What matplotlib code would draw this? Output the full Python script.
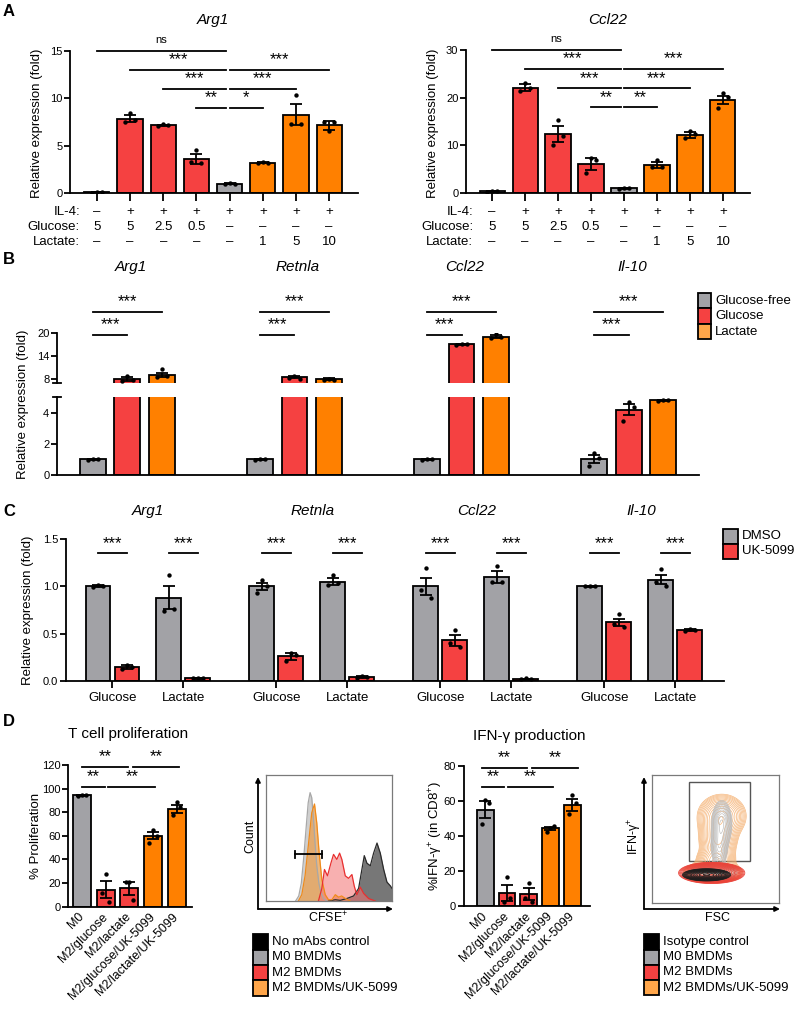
"""Figura wieloczesciowa: ekspresja genow M2 i proliferacja limfocytow T."""

import numpy as np
import matplotlib

matplotlib.use("Agg")
from matplotlib import pyplot as plt
from matplotlib.patches import Rectangle
from matplotlib.transforms import blended_transform_factory

plt.rcParams["font.family"] = ["Liberation Sans", "DejaVu Sans"]
plt.rcParams["mathtext.fontset"] = "custom"
plt.rcParams["mathtext.rm"] = "Liberation Sans"
plt.rcParams["mathtext.it"] = "Liberation Sans:italic"
plt.rcParams["axes.linewidth"] = 1.3
plt.rcParams["xtick.major.width"] = 1.3
plt.rcParams["ytick.major.width"] = 1.3
plt.rcParams["xtick.labelsize"] = 8
plt.rcParams["ytick.labelsize"] = 8

RED = "#F54141"
ORANGE = "#FF8000"
GRAY = "#A2A2A6"
LEG_ORANGE = "#FFA64A"
OFFSETS = [-0.2, 0.0, 0.2]

# =========================================================================
# Dane - panel A
# =========================================================================
a_il4 = ["–", "+", "+", "+", "+", "+", "+", "+"]
a_glucose = ["5", "5", "2.5", "0.5", "–", "–", "–", "–"]
a_lactate = ["–", "–", "–", "–", "–", "1", "5", "10"]
a_colors = [GRAY, RED, RED, RED, GRAY, ORANGE, ORANGE, ORANGE]

arg1_mean = [0.1, 7.86, 7.15, 3.6, 0.98, 3.2, 8.26, 7.15]
arg1_sem = [0.02, 0.4, 0.05, 0.5, 0.05, 0.07, 1.1, 0.45]
arg1_pts = [[0.05, 0.12, 0.08], [7.5, 8.45, 7.75], [7.1, 7.25, 7.15], [3.25, 4.55, 3.2],
            [0.95, 1.05, 0.98], [3.15, 3.3, 3.2], [7.3, 10.4, 7.3], [7.5, 6.5, 7.5]]
arg1_sig = [(0, 3.9, 15.0, "ns"), (1, 3.9, 13.0, "***"), (2, 3.9, 11.0, "***"), (3, 3.9, 9.0, "**"),
            (4.0, 7.0, 13.0, "***"), (4.0, 6.0, 11.0, "***"), (4.0, 5.0, 9.0, "*")]

ccl22_mean = [0.35, 22.1, 12.4, 6.1, 0.95, 5.8, 12.2, 19.5]
ccl22_sem = [0.1, 0.8, 1.6, 1.2, 0.1, 0.6, 0.6, 0.9]
ccl22_pts = [[0.3, 0.4, 0.35], [21.5, 23.0, 22.0], [10.0, 15.3, 12.0], [4.1, 7.4, 7.0],
             [0.9, 1.1, 0.95], [5.5, 6.9, 5.5], [11.6, 13.0, 12.3], [17.8, 20.9, 20.2]]
ccl22_sig = [(0, 3.9, 30.0, "ns"), (1, 3.9, 26.0, "***"), (2, 3.9, 22.0, "***"), (3, 3.9, 18.0, "**"),
             (4.0, 7.0, 26.0, "***"), (4.0, 6.0, 22.0, "***"), (4.0, 5.0, 18.0, "**")]

# =========================================================================
# Dane - panel B
# =========================================================================
b_genes = ["Arg1", "Retnla", "Ccl22", "Il-10"]
b_conditions = ["Glucose-free", "Glucose", "Lactate"]
b_free_mean = [1.0, 1.0, 1.0, 1.03]
b_free_sem = [0.04, 0.02, 0.03, 0.25]
b_free_pts = [[0.95, 1.05, 1.0], [0.98, 1.02, 1.0], [0.97, 1.03, 1.0], [0.6, 1.43, 1.1]]
b_glucose_mean = [8.0, 8.5, 17.0, 4.2]
b_glucose_sem = [0.4, 0.3, 0.1, 0.35]
b_glucose_pts = [[7.6, 8.8, 7.7], [8.3, 8.9, 8.1], [16.9, 17.1, 17.0], [3.5, 4.7, 4.4]]
b_lactate_mean = [9.0, 8.0, 19.0, 4.8]
b_lactate_sem = [0.6, 0.15, 0.3, 0.05]
b_lactate_pts = [[8.5, 10.6, 8.7], [7.8, 8.1, 7.7], [18.7, 19.6, 18.8], [4.75, 4.85, 4.8]]

# =========================================================================
# Dane - panel C
# =========================================================================
c_genes = ["Arg1", "Retnla", "Ccl22", "Il-10"]
c_substrates = ["Glucose", "Lactate"]
c_treatments = ["DMSO", "UK-5099"]
c_dmso_glc_mean = [1.0, 1.0, 1.0, 1.0]
c_dmso_glc_sem = [0.01, 0.04, 0.09, 0.005]
c_dmso_glc_pts = [[0.99, 1.01, 1.0], [0.93, 1.07, 1.0], [0.96, 1.19, 0.88], [1.0, 1.0, 1.0]]
c_uk_glc_mean = [0.15, 0.26, 0.43, 0.62]
c_uk_glc_sem = [0.02, 0.04, 0.06, 0.04]
c_uk_glc_pts = [[0.13, 0.17, 0.15], [0.21, 0.3, 0.27], [0.4, 0.54, 0.36], [0.6, 0.71, 0.57]]
c_dmso_lac_mean = [0.88, 1.05, 1.1, 1.07]
c_dmso_lac_sem = [0.12, 0.04, 0.06, 0.05]
c_dmso_lac_pts = [[0.74, 1.12, 0.76], [1.01, 1.12, 1.03], [1.05, 1.22, 1.05], [1.05, 1.18, 1.0]]
c_uk_lac_mean = [0.03, 0.04, 0.02, 0.54]
c_uk_lac_sem = [0.005, 0.01, 0.005, 0.01]
c_uk_lac_pts = [[0.03, 0.035, 0.03], [0.03, 0.05, 0.04], [0.02, 0.03, 0.02], [0.53, 0.55, 0.54]]

# =========================================================================
# Dane - panel D
# =========================================================================
d_groups = ["M0", "M2/glucose", "M2/lactate", "M2/glucose/UK-5099", "M2/lactate/UK-5099"]
d_colors = [GRAY, RED, RED, ORANGE, ORANGE]
prolif_mean = [94.5, 14.5, 15.5, 60.0, 83.0]
prolif_sem = [0.5, 7.5, 5.5, 3.0, 3.5]
prolif_pts = [[94.0, 94.5, 95.0], [12.0, 27.7, 3.7], [21.0, 21.0, 6.0], [54.0, 65.0, 60.0], [78.0, 89.0, 84.5]]
prolif_sig = [(0, 1.95, 118.3, "**"), (2.15, 4.1, 118.3, "**"), (0, 0.95, 101.4, "**"), (1.1, 3.1, 101.4, "**")]
ifn_mean = [55.0, 7.6, 6.7, 44.2, 57.4]
ifn_sem = [5.0, 4.5, 3.3, 1.0, 3.5]
ifn_pts = [[46.8, 60.5, 58.6], [2.5, 16.7, 4.4], [4.4, 13.3, 2.5], [42.4, 44.7, 45.6], [52.3, 63.3, 58.6]]
ifn_sig = [(-0.15, 1.9, 78.9, "**"), (2.15, 4.25, 78.9, "**"), (-0.15, 0.85, 68.0, "**"), (1.05, 3.1, 68.0, "**")]

# histogramy CFSE (x, wysokosc)
cfse_nomab_x = [49.6, 55, 58.9, 64.2, 69.5, 73.5, 76.1, 78, 80.1, 82.8, 85.4, 88.1, 90.7, 93.4, 96, 98.7, 100]
cfse_nomab_y = [0, 1, 0.5, 2, 4, 10, 25, 36, 30, 28, 38, 46, 38, 25, 15, 12, 10]
cfse_m0_x = [23.5, 26, 28, 30, 32, 33.5, 35, 36.3, 37.7, 39, 40.3, 42, 43.5, 45.6, 48.3]
cfse_m0_y = [0, 4, 14, 35, 60, 78, 86, 82, 65, 45, 28, 14, 7, 2, 0]
cfse_uk_x = [25.7, 28.4, 31, 33.7, 36.3, 38.5, 40.3, 42.2, 44.3, 47, 49.6, 52.3, 55, 57.6, 60, 63, 66.8]
cfse_uk_y = [0, 5, 20, 45, 70, 77, 62, 38, 17, 5, 1, 1, 5, 3, 4, 2, 0]
cfse_m2_x = [41.6, 44.3, 46.4, 48.8, 51.5, 53.6, 56.2, 58.4, 60.2, 62.9, 65.5, 68.2, 70, 72, 74.8, 77.5, 81.4, 86.7]
cfse_m2_y = [0, 10, 25, 20, 30, 37, 33, 38, 33, 20, 18, 21, 12, 5, 11, 6, 2, 0]

# populacje IFN-g vs FSC: (srodek x, srodek y, sd x, sd y, waga)
ifng_uk = [(55, 68, 9, 8, 0.8), (52, 50, 7, 9, 0.8), (50, 33, 7, 5, 0.8), (48, 24, 10, 3.5, 1.2)]
ifng_m0 = [(55, 62, 3.5, 8, 0.8), (53, 45, 3, 8, 0.6), (48, 24, 8, 3, 1.0)]
ifng_m2 = [(47, 23.5, 11, 3.5, 1.0)]
ifng_iso = [(43, 22, 8, 2, 1.0)]

# =========================================================================
# Pomocnicze
# =========================================================================
W, H = 796, 1018
fig = plt.figure(figsize=(W / 100, H / 100), dpi=100, facecolor="white")


def px_axes(x0, y0, x1, y1):
    return fig.add_axes([x0 / W, 1 - y1 / H, (x1 - x0) / W, (y1 - y0) / H])


def fig_text(x, y, s, **kw):
    fig.text(x / W, 1 - y / H, s, **kw)


def clean(ax):
    ax.spines["top"].set_visible(False)
    ax.spines["right"].set_visible(False)
    ax.tick_params(axis="y", length=4, pad=1.5)
    ax.tick_params(axis="x", length=6, pad=2)
    ax.set_facecolor("none")


def draw_bars(ax, xs, means, sems, pts, colors, width):
    ax.bar(xs, means, width=width, color=colors, edgecolor="black", linewidth=1.3, zorder=2)
    ax.errorbar(xs, means, yerr=sems, fmt="none", ecolor="black", elinewidth=1.3,
                capsize=4.5, capthick=1.3, zorder=3)
    for x, p in zip(xs, pts):
        ax.scatter(x + np.array(OFFSETS) * width, p, s=10, color="black", zorder=4, linewidths=0)


def sig(ax, x1, x2, y, label, lift=7.2):
    ax.plot([x1, x2], [y, y], color="black", lw=1.3, clip_on=False, zorder=5)
    size = 8 if label == "ns" else 12
    ax.annotate(label, xy=((x1 + x2) / 2, y), xytext=(0, lift if label != "ns" else 8),
                textcoords="offset points", ha="center", va="center", fontsize=size,
                annotation_clip=False)


def box_legend(x, y_first, labels, colors, step=15.5, w=14):
    for i, (lab, col) in enumerate(zip(labels, colors)):
        yc = y_first + i * step
        fig.add_artist(Rectangle((x / W, 1 - (yc + step / 2) / H), w / W, step / H,
                                 transform=fig.transFigure, facecolor=col,
                                 edgecolor="black", lw=1.3))
        fig_text(x + w + 4, yc, lab, fontsize=9.5, va="center", ha="left")


def arrow(x0, y0, x1, y1):
    fig.add_artist(plt.Annotation("", xy=(x1, H - y1), xytext=(x0, H - y0),
                                  xycoords="figure pixels", textcoords="figure pixels",
                                  arrowprops=dict(arrowstyle="-|>", lw=1.3, color="black",
                                                  mutation_scale=7, shrinkA=0, shrinkB=0)))


# panel letters
for letter, y in [("A", 11), ("B", 260), ("C", 512), ("D", 722)]:
    fig_text(9, y, letter, fontsize=12, fontweight="bold", ha="center", va="center")

# =========================================================================
# Panel A
# =========================================================================
a_x = np.arange(len(a_il4))
a_specs = [
    ("Arg1", arg1_mean, arg1_sem, arg1_pts, arg1_sig, (70, 51, 358, 193), (-0.81, 7.87), 15, 80, 213, 37),
    ("Ccl22", ccl22_mean, ccl22_sem, ccl22_pts, ccl22_sig, (466, 50, 750, 193), (-0.79, 7.82), 30, 473, 608, 433),
]
for gene, mean, sem, pts, comps, box, xlim, ymax, row_x, title_x, ylab_x in a_specs:
    ax = px_axes(*box)
    clean(ax)
    draw_bars(ax, a_x, mean, sem, pts, a_colors, 0.76)
    ax.set_xlim(*xlim)
    ax.set_ylim(0, ymax)
    ax.set_yticks(np.linspace(0, ymax, 4))
    ax.set_xticks(a_x)
    ax.set_xticklabels([])
    for x1, x2, y, lab in comps:
        sig(ax, x1, x2, y, lab)
    trans = blended_transform_factory(ax.transData, fig.transFigure)
    for row_y, name, vals in [(212, "IL-4:", a_il4), (227, "Glucose:", a_glucose), (242, "Lactate:", a_lactate)]:
        fig_text(row_x, row_y, name, fontsize=9.5, ha="right", va="center")
        for x, v in zip(a_x, vals):
            ax.text(x, 1 - row_y / H, v, transform=trans, fontsize=9.5, ha="center", va="center")
    fig_text(title_x, 20, gene, fontsize=11, fontstyle="italic", ha="center", va="center")
    fig_text(ylab_x, 123, "Relative expression (fold)", fontsize=9.5, rotation=90, ha="center", va="center")

# =========================================================================
# Panel B (przerwana os y)
# =========================================================================
B_STEP = 4.84
b_width = 0.75
b_xs = [g * B_STEP + np.arange(3) for g in range(len(b_genes))]
b_xlim = (-1.04, (len(b_genes) - 1) * B_STEP + 2 + 1.04)
ax_lo = px_axes(57, 397.2, 699, 475)
ax_hi = px_axes(57, 332.7, 699, 382.9)
for ax in (ax_lo, ax_hi):
    clean(ax)
    for g in range(len(b_genes)):
        draw_bars(ax, b_xs[g],
                  [b_free_mean[g], b_glucose_mean[g], b_lactate_mean[g]],
                  [b_free_sem[g], b_glucose_sem[g], b_lactate_sem[g]],
                  [b_free_pts[g], b_glucose_pts[g], b_lactate_pts[g]],
                  [GRAY, RED, ORANGE], b_width)
    ax.set_xlim(*b_xlim)
    ax.set_xticks([])
ax_lo.set_ylim(0, 5)
ax_lo.set_yticks([0, 2, 4])
ax_hi.set_ylim(7, 20)
ax_hi.set_yticks([8, 14, 20])
ax_hi.spines["bottom"].set_visible(False)
ax_lo.plot([-0.007, 0.007], [1, 1], transform=ax_lo.transAxes, color="black", lw=1.3, clip_on=False)
ax_hi.plot([-0.007, 0.007], [0, 0], transform=ax_hi.transAxes, color="black", lw=1.3, clip_on=False)
for g, gene in enumerate(b_genes):
    x0 = b_xs[g][0]
    sig(ax_hi, x0, x0 + 2, 25.4, "***")
    sig(ax_hi, x0, x0 + 1, 19.4, "***")
    fig_text(93 + g * 167 + 38, 267, gene, fontsize=11, fontstyle="italic", ha="center", va="center")
fig_text(23, 404, "Relative expression (fold)", fontsize=9.5, rotation=90, ha="center", va="center")
box_legend(698, 300.5, b_conditions, [GRAY, RED, LEG_ORANGE], step=15.5, w=13)

# =========================================================================
# Panel C
# =========================================================================
C_GENE_STEP = 5.655
C_SUB_STEP = 2.448
c_width = 0.86
ax = px_axes(66, 539, 724, 681)
clean(ax)
c_ticks = []
for g, gene in enumerate(c_genes):
    base = g * C_GENE_STEP
    groups = [
        (base, c_dmso_glc_mean, c_dmso_glc_sem, c_dmso_glc_pts, c_uk_glc_mean, c_uk_glc_sem, c_uk_glc_pts),
        (base + C_SUB_STEP, c_dmso_lac_mean, c_dmso_lac_sem, c_dmso_lac_pts, c_uk_lac_mean, c_uk_lac_sem, c_uk_lac_pts),
    ]
    for x0, dm, ds, dp, um, us, up in groups:
        draw_bars(ax, [x0, x0 + 1], [dm[g], um[g]], [ds[g], us[g]], [dp[g], up[g]], [GRAY, RED], c_width)
        sig(ax, x0, x0 + 1, 1.35, "***")
        c_ticks.append(x0 + 0.5)
    fig_text(148 + g * 164.3, 511, gene, fontsize=11, fontstyle="italic", ha="center", va="center")
ax.set_xticks(c_ticks)
ax.set_xticklabels(c_substrates * len(c_genes), fontsize=9.5)
ax.tick_params(axis="x", length=5, pad=3)
ax.set_xlim(-1.103, 21.59)
ax.set_ylim(0, 1.5)
ax.set_yticks([0, 0.5, 1.0, 1.5])
ax.set_yticklabels(["0.0", "0.5", "1.0", "1.5"])
fig_text(28, 610, "Relative expression (fold)", fontsize=9.5, rotation=90, ha="center", va="center")
box_legend(723, 536, c_treatments, [GRAY, RED], step=15, w=15)

# =========================================================================
# Panel D - slupki
# =========================================================================
d_x = np.arange(len(d_groups))
d_specs = [
    (prolif_mean, prolif_sem, prolif_pts, prolif_sig, (68.3, 765, 191.7, 906.7), (-0.58, 4.63), 120,
     "T cell proliferation", (128, 734), "% Proliferation", 36),
    (ifn_mean, ifn_sem, ifn_pts, ifn_sig, (463.7, 765.7, 590.3, 906), (-0.99, 4.83), 80,
     "IFN-γ production", (529, 736), "%IFN-γ$^{+}$ (in CD8$^{+}$)", 436),
]
for mean, sem, pts, comps, box, xlim, ymax, title, tpos, ylab, ylab_x in d_specs:
    ax = px_axes(*box)
    clean(ax)
    draw_bars(ax, d_x, mean, sem, pts, d_colors, 0.76)
    ax.set_xlim(*xlim)
    ax.set_ylim(0, ymax)
    ax.set_yticks(np.arange(0, ymax + 1, 20))
    ax.set_xticks(d_x)
    ax.set_xticklabels(d_groups, rotation=45, ha="right", va="center", rotation_mode="anchor", fontsize=9)
    ax.tick_params(axis="x", length=0, pad=6)
    for x1, x2, y, lab in comps:
        sig(ax, x1, x2, y, lab)
    fig_text(tpos[0], tpos[1], title, fontsize=11, ha="center", va="center")
    fig_text(ylab_x, 836, ylab, fontsize=9.5, rotation=90, ha="center", va="center")

# =========================================================================
# Panel D - histogram CFSE
# =========================================================================
ax = px_axes(266, 775, 392, 901)
ax.set_xlim(0, 100)
ax.set_ylim(0, 100)
ax.set_xticks([])
ax.set_yticks([])
for sp in ax.spines.values():
    sp.set_color("#7A7A7A")
    sp.set_linewidth(0.9)
for xs, ys, fc, ec, al in [
    (cfse_nomab_x, cfse_nomab_y, "#4A4A4A", "#2A2A2A", 0.75),
    (cfse_m0_x, cfse_m0_y, "#C4C4C4", "#A8A8A8", 0.8),
    (cfse_uk_x, cfse_uk_y, "#E9A050", "#F08A1A", 0.75),
    (cfse_m2_x, cfse_m2_y, "#F47070", "#E83030", 0.55),
]:
    ax.fill_between(xs, ys, 0, color=fc, alpha=al, lw=0)
    ax.plot(xs, ys, color=ec, lw=0.9)
ax.plot([23, 44.8], [37, 37], color="black", lw=1.3)
ax.plot([23, 23], [34, 40], color="black", lw=1.3)
ax.plot([44.8, 44.8], [34, 40], color="black", lw=1.3)
arrow(258, 909, 258, 777)
arrow(258, 909, 393, 909)
fig_text(250, 836, "Count", fontsize=9, rotation=90, ha="center", va="center")
fig_text(328, 918, "CFSE$^{+}$", fontsize=9, ha="center", va="center")
box_legend(253, 942, ["No mAbs control", "M0 BMDMs", "M2 BMDMs", "M2 BMDMs/UK-5099"],
           ["black", GRAY, RED, LEG_ORANGE], step=15.3, w=15)

# =========================================================================
# Panel D - kontury IFN-g
# =========================================================================
ax = px_axes(652, 775, 779, 903)
ax.set_xlim(0, 100)
ax.set_ylim(0, 100)
ax.set_xticks([])
ax.set_yticks([])
for sp in ax.spines.values():
    sp.set_color("#7A7A7A")
    sp.set_linewidth(0.9)
gx, gy = np.meshgrid(np.linspace(0, 100, 240), np.linspace(0, 100, 240))
for comps, col, lw, n in [(ifng_uk, "#F5B070", 0.45, 16), (ifng_m0, "#BDBDBD", 0.45, 14),
                          (ifng_m2, "#EA4036", 0.55, 18), (ifng_iso, "#1E1E1E", 0.6, 14)]:
    z = np.zeros_like(gx)
    for cx, cy, sx, sy, w in comps:
        z += w * np.exp(-((gx - cx) ** 2 / (2 * sx ** 2) + (gy - cy) ** 2 / (2 * sy ** 2)))
    z /= z.max()
    ax.contour(gx, gy, z, levels=np.geomspace(0.06, 0.95, n), colors=col, linewidths=lw)
ax.add_patch(Rectangle((29.5, 32.5), 48, 62.3, fill=False, edgecolor="#555555", lw=1.0))
arrow(644, 909, 644, 777)
arrow(644, 909, 780, 909)
fig_text(635, 836, "IFN-γ$^{+}$", fontsize=9, rotation=90, ha="center", va="center")
fig_text(718, 918, "FSC", fontsize=9, ha="center", va="center")
box_legend(644, 942, ["Isotype control", "M0 BMDMs", "M2 BMDMs", "M2 BMDMs/UK-5099"],
           ["black", GRAY, RED, LEG_ORANGE], step=15.2, w=15)

fig.savefig("out.png", dpi=100, facecolor="white")
plt.close(fig)
